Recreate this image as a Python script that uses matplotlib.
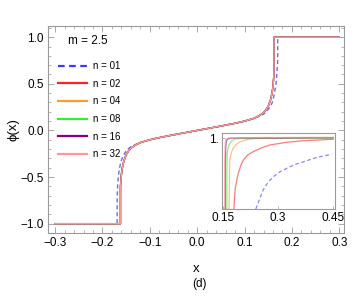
import matplotlib
matplotlib.use("Agg")
import matplotlib.pyplot as plt
from matplotlib.ticker import MultipleLocator, FixedLocator

plt.rcParams['font.family'] = ['Liberation Sans', 'DejaVu Sans']

# ---- data ----
labels = ["n = 01", "n = 02", "n = 04", "n = 08", "n = 16", "n = 32"]
colors = ["#3a3aff", "#ff2020", "#ff9933", "#33ee33", "#800080", "#ff9999"]
styles = ["--", "-", "-", "-", "-", "-"]

x_n01 = [-0.30, -0.169, -0.169, -0.168, -0.166, -0.163, -0.160, -0.155, -0.149, -0.14, -0.13,
         -0.12, -0.10, -0.08, -0.05, 0.0, 0.05, 0.08, 0.10, 0.12, 0.13, 0.14, 0.146,
         0.152, 0.156, 0.160, 0.163, 0.166, 0.168, 0.170, 0.170, 0.30]
phi_n01 = [-1.0, -1.0, -0.75, -0.58, -0.47, -0.38, -0.32, -0.26, -0.21, -0.175, -0.15,
           -0.13, -0.10, -0.075, -0.047, 0.0, 0.047, 0.075, 0.10, 0.13, 0.15, 0.175, 0.20,
           0.24, 0.27, 0.32, 0.40, 0.48, 0.59, 0.75, 1.0, 1.0]

x_sol = [-0.30, -0.162, -0.162, -0.160, -0.158, -0.155, -0.150, -0.145, -0.14, -0.13,
         -0.12, -0.10, -0.08, -0.05, 0.0, 0.05, 0.08, 0.10, 0.12, 0.13, 0.14, 0.145,
         0.150, 0.155, 0.158, 0.160, 0.162, 0.162, 0.30]
phi_sol = [-1.0, -1.0, -0.60, -0.47, -0.40, -0.33, -0.26, -0.22, -0.19, -0.155,
           -0.13, -0.10, -0.077, -0.047, 0.0, 0.047, 0.077, 0.10, 0.13, 0.155, 0.19, 0.22,
           0.26, 0.33, 0.40, 0.47, 0.60, 1.0, 1.0]

main_x = [x_n01, x_sol, x_sol, x_sol, x_sol, x_sol]
main_y = [phi_n01, phi_sol, phi_sol, phi_sol, phi_sol, phi_sol]

# inset curves
ins_x = [
    [0.239, 0.250, 0.259, 0.272, 0.287, 0.305, 0.323, 0.345, 0.369, 0.392, 0.414, 0.446],
    [0.179, 0.183, 0.191, 0.198, 0.205, 0.217, 0.232, 0.255, 0.278, 0.323, 0.369, 0.45],
    [0.166, 0.167, 0.168, 0.172, 0.177, 0.185, 0.196, 0.212, 0.232, 0.28, 0.35, 0.45],
    [0.160, 0.160, 0.161, 0.164, 0.168, 0.174, 0.182, 0.20, 0.25, 0.35, 0.45],
    [0.156, 0.156, 0.157, 0.159, 0.163, 0.170, 0.20, 0.30, 0.45],
    [0.154, 0.154, 0.155, 0.157, 0.160, 0.168, 0.20, 0.30, 0.45],
]
ins_y = [
    [0.60, 0.66, 0.707, 0.75, 0.782, 0.81, 0.829, 0.85, 0.866, 0.882, 0.895, 0.908],
    [0.60, 0.72, 0.80, 0.845, 0.876, 0.905, 0.923, 0.945, 0.961, 0.976, 0.985, 0.993],
    [0.60, 0.75, 0.876, 0.915, 0.942, 0.962, 0.979, 0.990, 0.996, 0.999, 1.0, 1.0],
    [0.60, 0.80, 0.914, 0.95, 0.970, 0.985, 0.995, 0.999, 1.0, 1.0, 1.0],
    [0.60, 0.85, 0.95, 0.985, 0.995, 0.999, 1.0, 1.0, 1.002],
    [0.60, 0.88, 0.97, 0.99, 0.998, 1.0, 1.002, 1.003, 1.004],
]

m_label = "m = 2.5"

# ---- figure ----
fig = plt.figure(figsize=(3.54, 3.0), dpi=100)
ax = fig.add_axes([0.1356, 0.2233, 0.8362, 0.69])

frame = "#9a9a9a"
for i in range(6):
    ax.plot(main_x[i], main_y[i], color=colors[i], ls=styles[i], lw=1.0,
            alpha=0.75 if i == 0 else 1.0, label=labels[i],
            dashes=(3, 2) if i == 0 else (None, None))

ax.set_xlim(-0.315, 0.31)
ax.set_ylim(-1.1, 1.12)
ax.xaxis.set_major_locator(MultipleLocator(0.1))
ax.xaxis.set_minor_locator(MultipleLocator(0.02))
ax.yaxis.set_major_locator(MultipleLocator(0.5))
ax.yaxis.set_minor_locator(MultipleLocator(0.1))
ax.tick_params(which='both', direction='in', top=True, right=True, color=frame,
               labelsize=8.5, pad=3)
ax.tick_params(which='major', length=4, width=0.6)
ax.tick_params(which='minor', length=2, width=0.5)
ax.xaxis.set_major_formatter(plt.FuncFormatter(lambda v, p: f"{v:.1f}".replace("-", "\u2212")))
ax.yaxis.set_major_formatter(plt.FuncFormatter(lambda v, p: f"{v:.1f}".replace("-", "\u2212")))
for s in ax.spines.values():
    s.set_color(frame)
    s.set_linewidth(0.8)

ax.set_xlabel("x", fontsize=9.5, labelpad=10)
ax.set_ylabel("\u03d5(x)", fontsize=9.5, labelpad=1)
fig.text(0.5636, 0.055, "(d)", ha='center', va='center', fontsize=8.5)

ax.text(0.068, 0.93, m_label, transform=ax.transAxes, fontsize=8.5, va='center')
leg = ax.legend(loc='upper left', bbox_to_anchor=(0.034, 0.83), frameon=False,
                fontsize=7, handlelength=3.0, handletextpad=0.6, labelspacing=0.78,
                borderaxespad=0.0, borderpad=0.0)
for ln in leg.get_lines():
    ln.set_linewidth(1.6)
    ln.set_alpha(1.0)

# ---- inset ----
ins = fig.add_axes([0.6263, 0.3033, 0.32, 0.2544])
for i in range(6):
    ins.plot(ins_x[i], ins_y[i], color=colors[i], ls=styles[i], lw=0.9, alpha=0.6,
             dashes=(3, 2) if i == 0 else (None, None))
ins.set_xlim(0.146, 0.455)
ins.set_ylim(0.6, 1.03)
ins.xaxis.set_major_locator(FixedLocator([0.15, 0.3, 0.45]))
ins.xaxis.set_major_formatter(plt.FuncFormatter(lambda v, p: {0.15: "0.15", 0.3: "0.3", 0.45: "0.45"}.get(round(v, 2), "")))
ins.yaxis.set_major_locator(FixedLocator([1.0]))
ins.yaxis.set_major_formatter(plt.FuncFormatter(lambda v, p: "1."))
ins.tick_params(direction='in', length=2, width=0.5, color=frame, labelsize=8.5, pad=2)
for s in ins.spines.values():
    s.set_color(frame)
    s.set_linewidth(0.8)

fig.savefig("out.png", dpi=100)
